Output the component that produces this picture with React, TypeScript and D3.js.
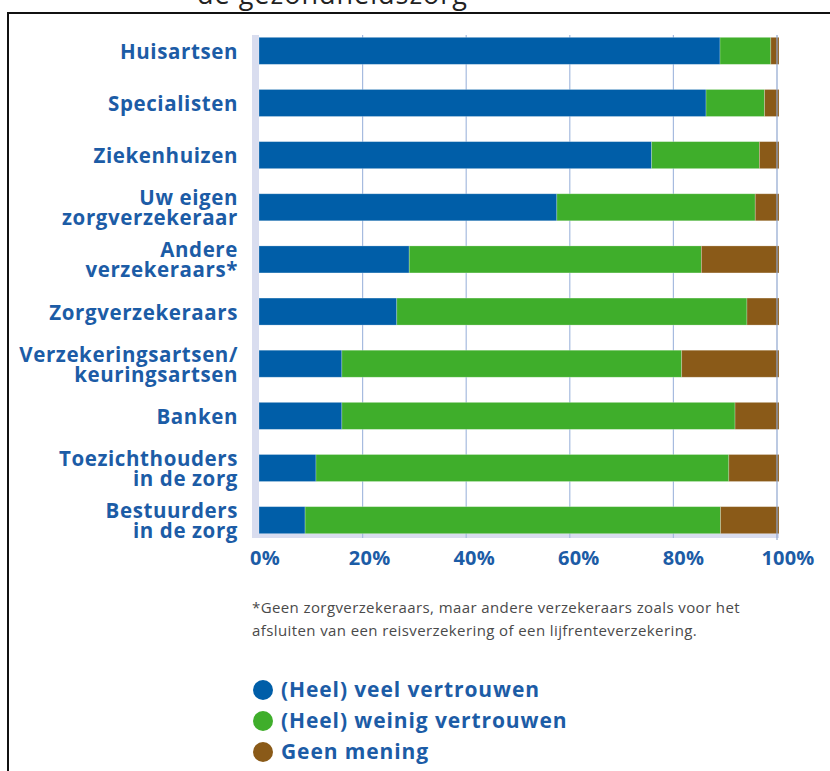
import * as d3 from "d3";

const categories = [
  "Huisartsen",
  "Specialisten",
  "Ziekenhuizen",
  "Uw eigen|zorgverzekeraar",
  "Andere|verzekeraars*",
  "Zorgverzekeraars",
  "Verzekeringsartsen/|keuringsartsen",
  "Banken",
  "Toezichthouders|in de zorg",
  "Bestuurders|in de zorg",
];
const veel = [89.0, 86.3, 75.8, 57.5, 29.0, 26.6, 16.0, 16.0, 11.0, 8.9];
const weinig = [9.8, 11.3, 20.8, 38.3, 56.4, 67.6, 65.6, 75.9, 79.7, 80.2];
const geen = [1.2, 2.4, 3.4, 4.2, 14.6, 5.8, 18.4, 8.1, 9.3, 10.9];
const ticks = [0, 20, 40, 60, 80, 100];
const seriesNames = ["(Heel) veel vertrouwen", "(Heel) weinig vertrouwen", "Geen mening"];
const colors = ["#005ea8", "#3fae2b", "#8a5a18"];
const footnote = [
  "*Geen zorgverzekeraars, maar andere verzekeraars zoals voor het",
  "afsluiten van een reisverzekering of een lijfrenteverzekering.",
];

const W = 830;
const H = 771;
const FONT = "'Open Sans', 'Noto Sans', sans-serif";
const TEXT_BLUE = "#1c5ca6";

export default function App() {
  const x = d3.scaleLinear().domain([0, 100]).range([259, 777]);
  const xLabel = d3.scaleLinear().domain([0, 100]).range([265, 788]);
  const y = d3
    .scaleBand<string>()
    .domain(categories)
    .range([12.2, 558.8])
    .paddingInner(0.482)
    .paddingOuter(0.482);

  const rows = categories.map((c, i) => ({ "0": veel[i], "1": weinig[i], "2": geen[i] }));
  const stacked = d3.stack<any>().keys(["0", "1", "2"])(rows);

  const gridTop = 35;
  const gridBottom = 538;

  return (
    <svg
      width={W}
      height={H}
      style={{ position: "absolute", left: 0, top: 0, background: "#fff" }}
      fontFamily={FONT}
    >
      {/* cut-off title */}
      <text x={197} y={4} fontSize={27} fill="#222" letterSpacing={1}>
        de gezondheidszorg
      </text>
      {/* frame */}
      <line x1={8} x2={8} y1={12} y2={H} stroke="#111" strokeWidth={2} />
      <line x1={7} x2={W} y1={13} y2={13} stroke="#111" strokeWidth={2} />

      {/* axis bands */}
      <rect x={252} y={gridTop} width={7} height={gridBottom - gridTop} fill="#d9ddef" />
      <rect x={252} y={531} width={527} height={7} fill="#d9ddef" />

      {/* grid */}
      {ticks.slice(1, -1).map((t) => (
        <line key={t} x1={x(t)} x2={x(t)} y1={gridTop} y2={gridBottom} stroke="#a6bbdf" strokeWidth={1.2} />
      ))}

      {/* bars */}
      {stacked.map((s, si) =>
        s.map((d, i) => (
          <rect
            key={`${si}-${i}`}
            x={x(d[0])}
            y={y(categories[i])}
            width={x(d[1]) - x(d[0]) + (si === 2 ? 2 : 0)}
            height={y.bandwidth()}
            fill={colors[si]}
            stroke="#ffffff"
            strokeOpacity={0.3}
            strokeWidth={0.8}
          />
        ))
      )}
      <line x1={x(100)} x2={x(100)} y1={gridTop} y2={540} stroke="#8fa6cf" strokeWidth={1.2} />

      {/* category labels */}
      {categories.map((c) => {
        const lines = c.split("|");
        const cy = (y(c) as number) + y.bandwidth() / 2;
        return (
          <text key={c} textAnchor="end" fontSize={20.5} fontWeight={700} fill={TEXT_BLUE} letterSpacing={0.6}>
            {lines.length === 1 ? (
              <tspan x={238} y={cy + 8}>
                {lines[0]}
              </tspan>
            ) : (
              lines.map((l, li) => (
                <tspan key={li} x={238} y={cy - 2 + li * 20}>
                  {l}
                </tspan>
              ))
            )}
          </text>
        );
      })}

      {/* x tick labels */}
      {ticks.map((t) => (
        <text
          key={t}
          x={xLabel(t)}
          y={565}
          textAnchor="middle"
          fontSize={20}
          fontWeight={700}
          fill={TEXT_BLUE}
          letterSpacing={0.2}
        >
          {t}%
        </text>
      ))}

      {/* footnote */}
      {footnote.map((f, i) => (
        <text key={i} x={252} y={613 + i * 23} fontSize={15} fill="#4a4a4a" letterSpacing={0.4}>
          {f}
        </text>
      ))}

      {/* legend */}
      {seriesNames.map((n, i) => (
        <g key={n} transform={`translate(0,${690 + i * 31})`}>
          <circle cx={263} cy={0} r={10} fill={colors[i]} />
          <text x={281} y={7} fontSize={21} fontWeight={700} fill={TEXT_BLUE} letterSpacing={0.9}>
            {n}
          </text>
        </g>
      ))}
    </svg>
  );
}
